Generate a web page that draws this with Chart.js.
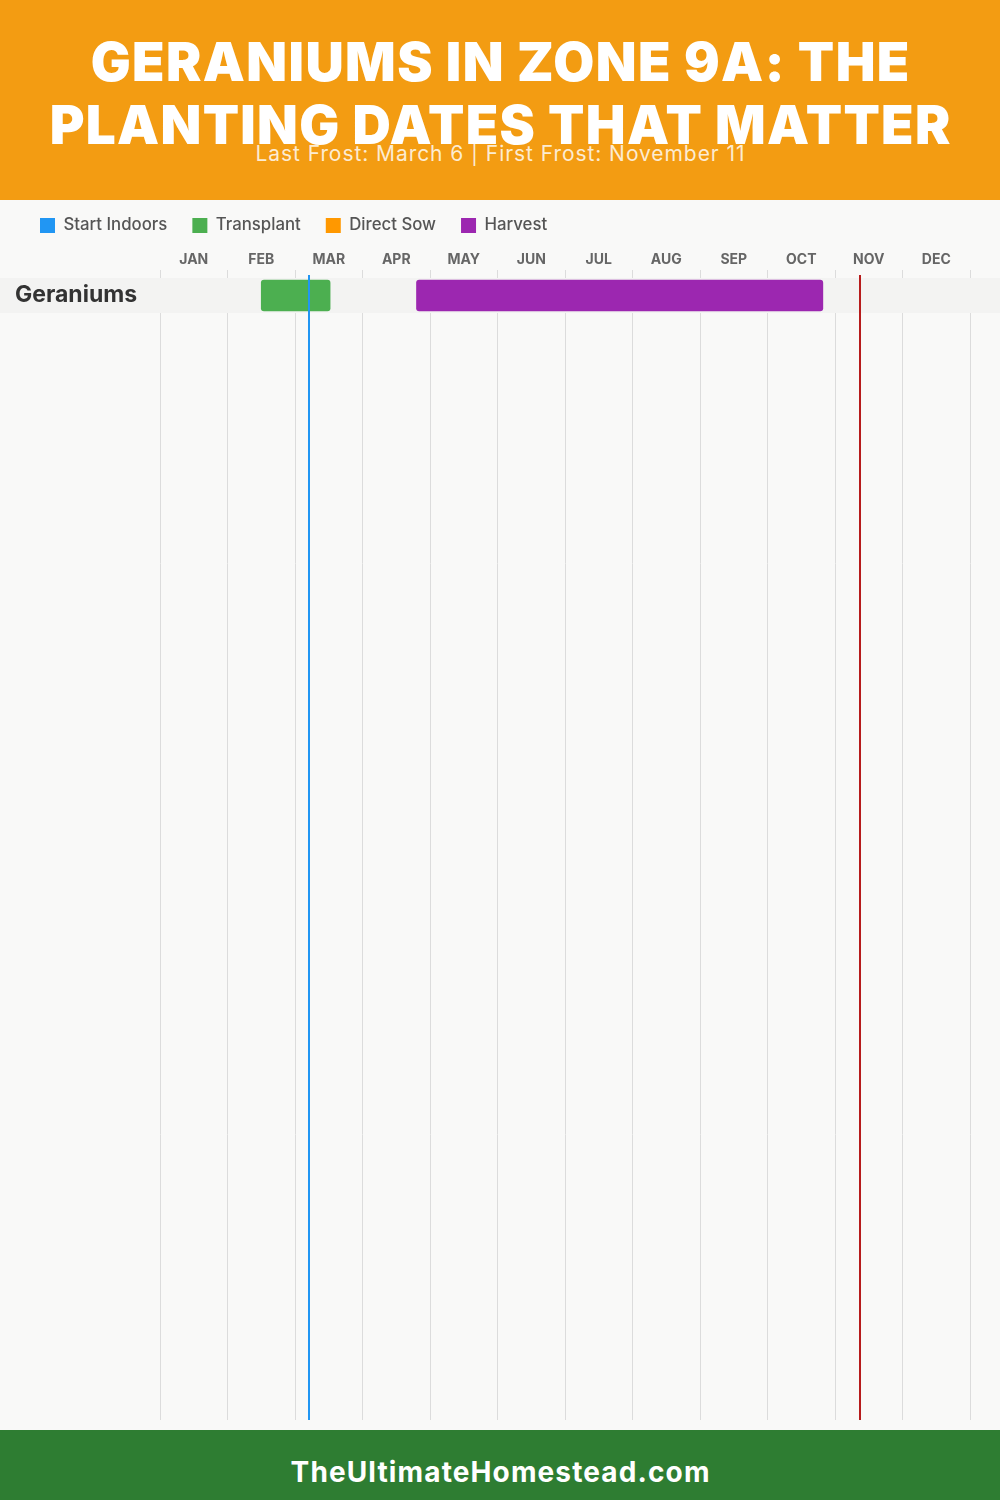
<!DOCTYPE html>
<html>
<head>
<meta charset="utf-8">
<script src="https://cdn.jsdelivr.net/npm/chart.js@4.4.1/dist/chart.umd.min.js"></script>
<style>
  html, body { margin: 0; padding: 0; }
  body { width: 1000px; height: 1500px; position: relative; overflow: hidden; background: #f9f9f8; font-family: Inter, "DejaVu Sans", sans-serif; }
  #header { position: absolute; left: 0; top: 0; width: 1000px; height: 200px; background: #f39c12; }
  .line { position: absolute; left: 0; width: 1000px; text-align: center; white-space: nowrap; line-height: 1; }
  .line span { display: inline-block; }
  .title { color: #fff; font-weight: 900; font-size: 53px; }
  #t1 { top: 36px; }
  #t2 { top: 99px; }
  #sub { top: 143px; color: rgba(255,255,255,0.82); font-size: 21px; font-weight: 400; }
  #chartWrap { position: absolute; left: 0; top: 192px; width: 1000px; height: 1238px; }
  #footer { position: absolute; left: 0; top: 1430px; width: 1000px; height: 70px; background: #2e7d32; }
  #foot { top: 28px; color: #fff; font-size: 28px; font-weight: 700; }
</style>
</head>
<body>
<div id="header">
  <div class="line title" id="t1"><span data-w="820">GERANIUMS IN ZONE 9A: THE</span></div>
  <div class="line title" id="t2"><span data-w="902">PLANTING DATES THAT MATTER</span></div>
  <div class="line" id="sub"><span data-w="490">Last Frost: March 6 | First Frost: November 11</span></div>
</div>
<div id="chartWrap"><canvas id="chart"></canvas></div>
<div id="footer">
  <div class="line" id="foot"><span data-w="420">TheUltimateHomestead.com</span></div>
</div>
<script>
// ---------- data ----------
const MONTHS = ['JAN','FEB','MAR','APR','MAY','JUN','JUL','AUG','SEP','OCT','NOV','DEC'];
const CROPS = ['Geraniums'];
const SERIES_NAMES = ['Start Indoors','Transplant','Direct Sow','Harvest'];
// ranges in month units (0 = Jan 1, 12 = Dec 31), one entry per crop
const startIndoors = [];
const transplant = [[1.5, 2.52]];     // mid Feb – mid Mar
const directSow = [];
const harvest = [[3.8, 9.82]];        // late Apr – late Oct
const LAST_FROST = [2.2];             // March 6
const FIRST_FROST = [10.37];          // November 11

// ---------- style ----------
const COLORS = ['#2196f3','#4caf50','#ff9800','#9c27b0'];
const FONT = 'Inter, "DejaVu Sans", sans-serif';
const ROW_SPAN = 1142 / 35;

// fit header/footer text widths with letter spacing
document.querySelectorAll('.line span').forEach(el => {
  const target = +el.dataset.w;
  const w = el.getBoundingClientRect().width;
  const n = el.textContent.length;
  const ls = (target - w) / n;
  el.style.letterSpacing = ls + 'px';
  el.style.marginRight = (-ls) + 'px';
});

const seriesData = [startIndoors, transplant, directSow, harvest];
const datasets = SERIES_NAMES.map((name, s) => ({
  label: name,
  data: seriesData[s].map((r, i) => r ? { x: r, y: i + 0.5 } : null).filter(Boolean),
  backgroundColor: COLORS[s],
  borderWidth: 0,
  borderRadius: 3,
  borderSkipped: false,
  barThickness: 31,
  grouped: false
}));

const rowBand = {
  id: 'rowBand',
  beforeDatasetsDraw(chart) {
    const { ctx, scales: { y } } = chart;
    ctx.save();
    ctx.fillStyle = '#f3f3f2';
    CROPS.forEach((c, i) => {
      const t = y.getPixelForValue(i), b = y.getPixelForValue(i + 1);
      ctx.fillRect(0, t, chart.width, b - t);
    });
    ctx.restore();
  }
};

const frostLines = {
  id: 'frostLines',
  afterDatasetsDraw(chart) {
    const { ctx, chartArea, scales: { x } } = chart;
    const draw = (v, color) => {
      const px = Math.round(x.getPixelForValue(v));
      ctx.save();
      ctx.strokeStyle = color;
      ctx.lineWidth = 2;
      ctx.beginPath();
      ctx.moveTo(px, chartArea.top - 3);
      ctx.lineTo(px, chartArea.bottom);
      ctx.stroke();
      ctx.restore();
    };
    LAST_FROST.forEach(v => draw(v, '#2196f3'));
    FIRST_FROST.forEach(v => draw(v, '#b71c1c'));
  }
};

new Chart(document.getElementById('chart'), {
  type: 'bar',
  data: { datasets },
  plugins: [rowBand, frostLines],
  options: {
    indexAxis: 'y',
    responsive: true,
    maintainAspectRatio: false,
    animation: false,
    layout: { padding: { left: 15, right: 30, top: 0, bottom: 10 } },
    plugins: {
      tooltip: { enabled: false },
      legend: {
        position: 'top',
        align: 'start',
        labels: {
          boxWidth: 15, boxHeight: 15, padding: 25,
          color: '#555',
          font: { family: FONT, size: 16.8, weight: '500' }
        }
      }
    },
    scales: {
      x: {
        type: 'linear',
        position: 'top',
        min: 0, max: 12,
        offset: false,
        afterBuildTicks: s => {
          const t = [];
          MONTHS.forEach((m, i) => { t.push({ value: i }); t.push({ value: i + 0.5 }); });
          t.push({ value: MONTHS.length });
          s.ticks = t;
        },
        grid: {
          color: c => (c.tick && c.tick.value % 1 === 0) ? '#dcdcdc' : 'rgba(0,0,0,0)',
          tickLength: 8,
          lineWidth: 1
        },
        border: { display: false },
        ticks: {
          autoSkip: false, maxRotation: 0, minRotation: 0, padding: 2,
          color: '#666',
          font: { family: FONT, size: 14, weight: '700' },
          callback: v => (v % 1) ? MONTHS[Math.floor(v)] : ''
        },
        afterFit: s => { s.height = 34.2; }
      },
      y: {
        type: 'linear',
        reverse: true,
        offset: false,
        min: 0, max: ROW_SPAN,
        grid: { display: false, offset: false },
        border: { display: false },
        afterBuildTicks: s => { s.ticks = CROPS.map((c, i) => ({ value: i + 0.5 })); },
        ticks: {
          z: 1,
          autoSkip: false, crossAlign: 'far', padding: 0,
          color: '#333',
          font: { family: FONT, size: 23, weight: '700' },
          callback: v => CROPS[Math.floor(v)] || ''
        },
        afterFit: s => { s.width = 145; s.paddingTop = 0; s.paddingBottom = 0; }
      }
    }
  }
});
</script>
</body>
</html>
